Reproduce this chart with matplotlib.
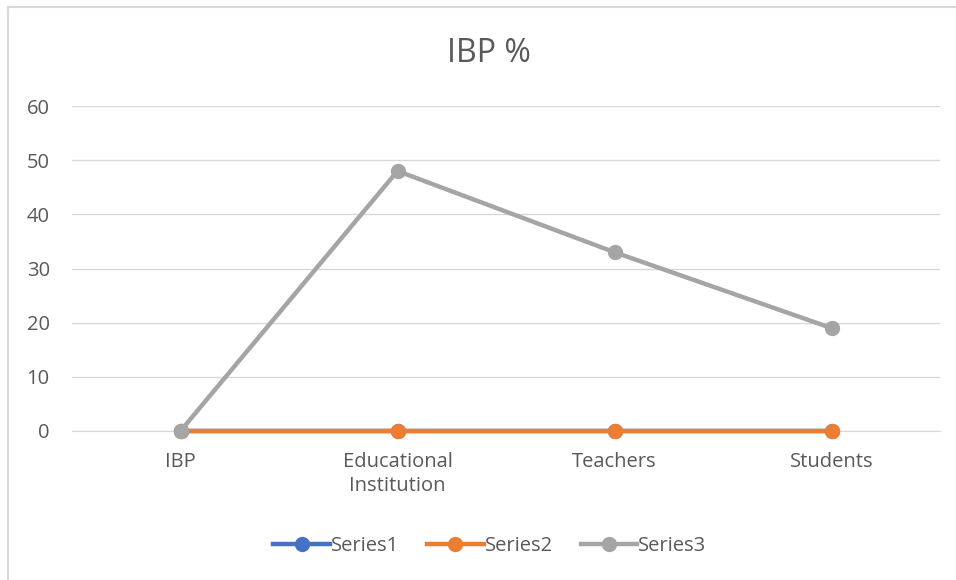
import matplotlib.pyplot as plt
from matplotlib.lines import Line2D

plt.rcParams['font.family'] = ['Open Sans', 'DejaVu Sans']

categories = ['IBP', 'Educational\nInstitution', 'Teachers', 'Students']
series1 = [0, 0, 0, 0]
series2 = [0, 0, 0, 0]
series3 = [0, 48, 33, 19]
series_names = ['Series1', 'Series2', 'Series3']
colors = ['#4472C4', '#ED7D31', '#A5A5A5']
y_ticks = [0, 10, 20, 30, 40, 50, 60]

fig = plt.figure(figsize=(9.56, 5.8), dpi=100)
ax = fig.add_axes([72 / 956, 1 - 431 / 580, 868 / 956, 325 / 580])

x = list(range(len(categories)))
for values, name, color in zip([series1, series2, series3], series_names, colors):
    ax.plot(x, values, color=color, lw=3.2, marker='o', ms=10,
            label=name, solid_capstyle='round', clip_on=False, zorder=3)

ax.set_xlim(-0.5, len(categories) - 0.5)
ax.set_ylim(0, 60)
ax.set_yticks(y_ticks)
ax.set_xticks(x)
ax.set_xticklabels(categories, linespacing=1.25)
ax.tick_params(axis='both', length=0, labelsize=14.5, colors='#595959')
ax.tick_params(axis='y', pad=16)
ax.tick_params(axis='x', pad=15)
ax.grid(axis='y', color='#D9D9D9', lw=1)
ax.set_axisbelow(True)
for side in ['top', 'right', 'left']:
    ax.spines[side].set_visible(False)
ax.spines['bottom'].set_color('#D9D9D9')

fig.text(489 / 956, 1 - 54 / 580, 'IBP %', ha='center', va='center',
         fontsize=23, color='#595959')

handles = [Line2D([0], [0], color=c, lw=3.2, marker='o', ms=10) for c in colors]
fig.legend(handles, series_names, loc='center', bbox_to_anchor=(490 / 956, 1 - 546 / 580),
           ncol=3, frameon=False, fontsize=14.5, labelcolor='#595959',
           handlelength=2.8, handletextpad=0.05, columnspacing=1.4)

# chart frame (only left/top edges visible in the crop)
fig.add_artist(Line2D([8 / 956, 8 / 956], [0, 1 - 7 / 580], color='#D9D9D9', lw=1.5))
fig.add_artist(Line2D([8 / 956, 1], [1 - 7 / 580, 1 - 7 / 580], color='#D9D9D9', lw=1.5))

fig.savefig('out.png', dpi=100)
